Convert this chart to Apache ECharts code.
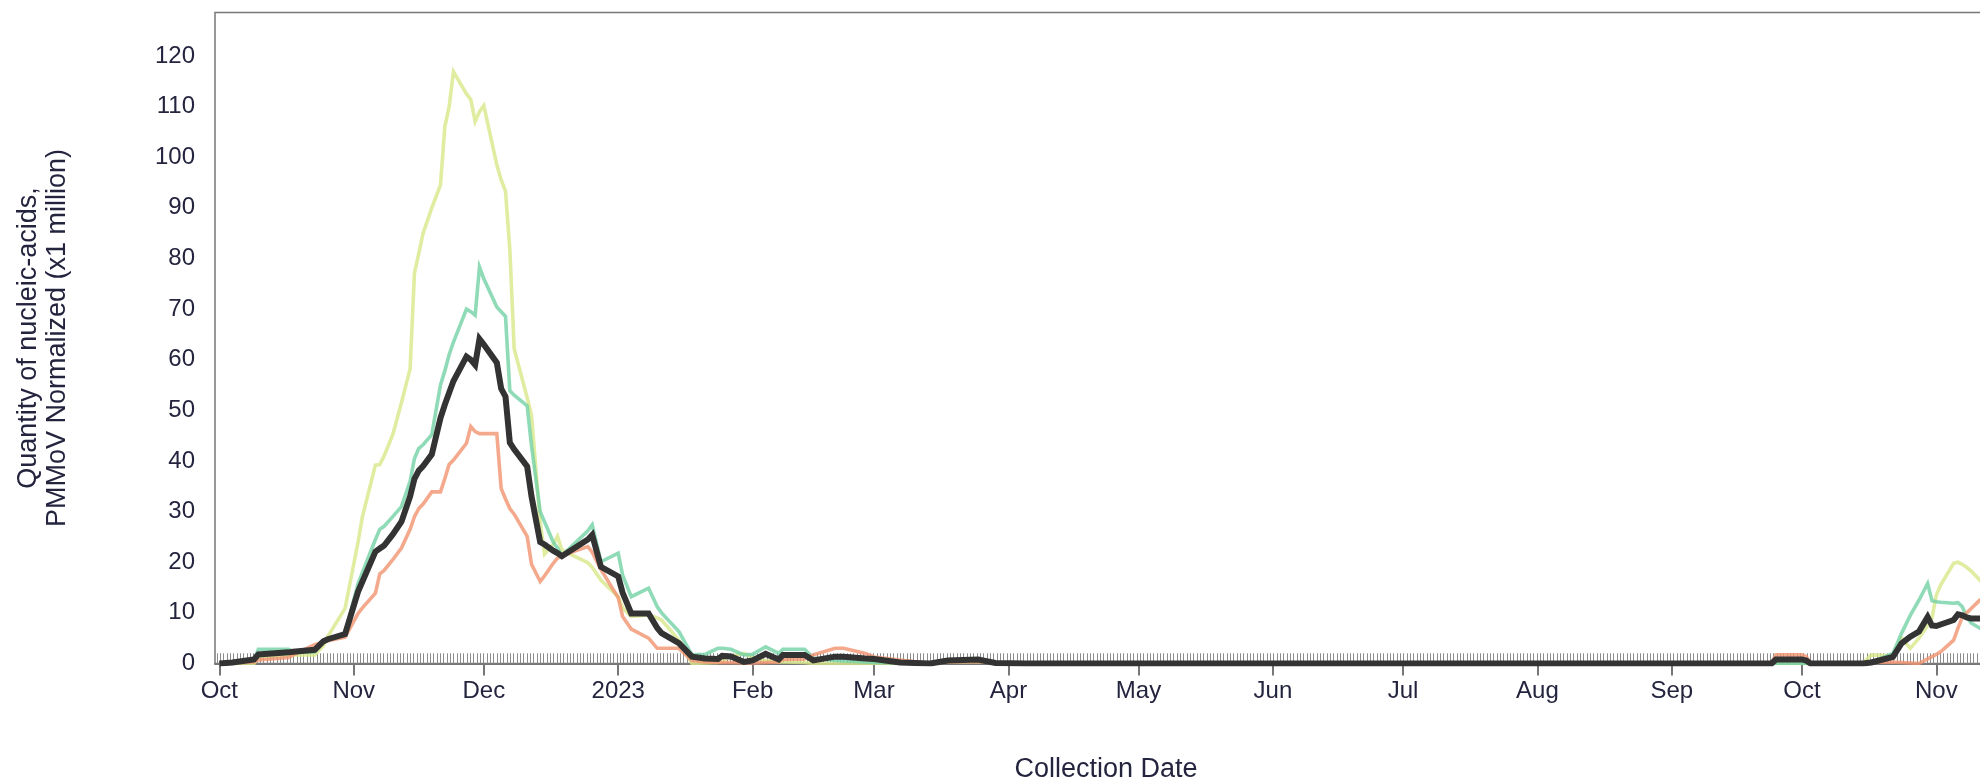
<!DOCTYPE html>
<html>
<head>
<meta charset="utf-8">
<script src="https://cdn.jsdelivr.net/npm/echarts@6/dist/echarts.min.js"></script>
<style>
  html, body { margin: 0; padding: 0; background: #ffffff; }
  #chart { width: 1980px; height: 782px; }
</style>
</head>
<body>
<div id="chart"></div>
<script>
// Sample collection dates
const dates = [
  // Oct 2022
  '2022-10-01','2022-10-04','2022-10-09','2022-10-10','2022-10-17','2022-10-18','2022-10-23','2022-10-25','2022-10-26','2022-10-30',
  // Nov 2022
  '2022-11-02','2022-11-03','2022-11-06','2022-11-07','2022-11-08','2022-11-10','2022-11-12','2022-11-14','2022-11-15','2022-11-16',
  '2022-11-17','2022-11-19','2022-11-21','2022-11-22','2022-11-23','2022-11-24','2022-11-27','2022-11-28','2022-11-29','2022-11-30',
  // Dec 2022
  '2022-12-01','2022-12-04','2022-12-05','2022-12-06','2022-12-07','2022-12-08','2022-12-11','2022-12-12','2022-12-14','2022-12-15',
  '2022-12-17','2022-12-18','2022-12-19','2022-12-25','2022-12-26','2022-12-28',
  // Jan 2023
  '2023-01-01','2023-01-02','2023-01-04','2023-01-08','2023-01-10','2023-01-11','2023-01-15','2023-01-18','2023-01-21','2023-01-24',
  '2023-01-25','2023-01-27','2023-01-30',
  // Feb 2023
  '2023-02-01','2023-02-04','2023-02-07','2023-02-08','2023-02-13','2023-02-15','2023-02-20','2023-02-22','2023-02-27',
  // Mar 2023
  '2023-03-01','2023-03-07','2023-03-14','2023-03-18','2023-03-25','2023-03-29',
  // Apr - Sep 2023 (weekly)
  '2023-04-05','2023-04-12','2023-04-19','2023-04-26','2023-05-03','2023-05-10','2023-05-17','2023-05-24','2023-05-31',
  '2023-06-07','2023-06-14','2023-06-21','2023-06-28','2023-07-05','2023-07-12','2023-07-19','2023-07-26',
  '2023-08-02','2023-08-09','2023-08-16','2023-08-23','2023-08-30','2023-09-06','2023-09-13','2023-09-20',
  '2023-09-24','2023-09-25',
  // Oct 2023
  '2023-10-01','2023-10-02','2023-10-03','2023-10-08','2023-10-15','2023-10-17','2023-10-22','2023-10-24','2023-10-26','2023-10-28',
  '2023-10-30','2023-10-31',
  // Nov 2023
  '2023-11-01','2023-11-02','2023-11-05','2023-11-06','2023-11-07','2023-11-08','2023-11-09','2023-11-11','2023-11-14'
];

const ZERO_APR_SEP = [0,0,0,0,0,0,0,0,0, 0,0,0,0,0,0,0,0, 0,0,0,0,0,0,0,0];

// Site A (yellow-green)
const siteA = [
  0, 0, 0, 1.2, 1.7, 1.7, 1.7, 3.5, 5.3, 10.9,
  24.0, 29.0, 39.2, 39.3, 41.0, 45.2, 51.5, 58.2, 77.1, 81.0,
  85.0, 90.0, 94.5, 106.0, 110.0, 116.9, 112.5, 111.4, 107.1, 109.0,
  110.2, 98.5, 95.5, 93.3, 81.8, 62.2, 52.5, 49.0, 28.0, 21.6,
  23.5, 25.1, 22.4, 19.9, 19.0, 16.5,
  13.2, 11.0, 9.3, 9.6, 9.0, 8.6, 4.6, 0, 0.1, 0.2,
  0.5, 1.5, 2.0,
  1.2, 0.6, 0.3, 0.3, 0.2, 0, 0, 0, 0,
  0, 0, 0, 0.3, 0.4, 0.1,
  ...ZERO_APR_SEP,
  0, 0,
  0, 0, 0, 0, 0, 1.7, 1.5, 5.0, 3.0, 5.0,
  7.5, 9.0,
  13.5, 15.5, 19.8, 20.0, 19.6, 19.0, 18.3, 16.5, 14.0
];

// Site B (teal)
const siteB = [
  0, 0.1, 0.6, 2.8, 2.8, 2.3, 2.3, 4.4, 4.8, 6.0,
  15.8, 18.0, 24.5, 26.5, 27.1, 29.0, 31.0, 36.0, 40.5, 42.5,
  43.2, 45.2, 55.0, 57.8, 61.0, 63.5, 70.0, 69.5, 68.8, 78.3,
  76.0, 70.4, 69.5, 68.6, 53.9, 53.0, 50.9, 43.0, 30.0, 28.0,
  24.0, 22.8, 21.3, 26.2, 27.4, 20.1,
  21.8, 17.5, 13.2, 14.9, 11.2, 10.0, 6.3, 1.7, 1.8, 3.0,
  3.0, 2.8, 1.7,
  1.8, 3.3, 2.0, 2.8, 2.8, 1.1, 0.6, 0.5, 0.3,
  0.2, 0.1, 0, 0.4, 0.6, 0.1,
  ...ZERO_APR_SEP,
  0, 0,
  0, 0, 0, 0, 0, 0.2, 2.0, 6.0, 9.5, 12.5,
  15.8, 12.4,
  12.2, 12.1, 11.9, 12.0, 11.2, 9.2, 8.0, 7.0, 5.0
];

// Site C (salmon)
const siteC = [
  0, 0.1, 0.3, 0.7, 1.2, 1.7, 3.7, 4.2, 4.5, 5.2,
  9.9, 11.0, 13.9, 17.7, 18.4, 20.5, 22.8, 26.5, 29.0, 30.6,
  31.5, 33.9, 33.9, 36.5, 39.3, 40.2, 43.5, 46.8, 45.8, 45.4,
  45.4, 45.4, 34.6, 32.5, 30.6, 29.5, 25.1, 19.6, 16.2, 17.3,
  19.8, 20.8, 21.3, 23.1, 22.0, 18.6,
  13.0, 9.3, 6.8, 5.0, 3.0, 3.0, 3.0, 0.6, 0.3, 0.2,
  0.2, 0.2, 0.1,
  0.1, 0.2, 0.3, 0.8, 0.9, 1.7, 3.0, 3.0, 2.0,
  1.3, 0.7, 0, 0.3, 0.4, 0.1,
  ...ZERO_APR_SEP,
  0, 1.7,
  1.7, 1.4, 0, 0, 0, 0.2, 0.3, 0.2, 0.1, 0,
  0.9, 1.35,
  1.8, 2.3, 4.6, 7.0, 9.2, 10.0, 10.8, 12.5, 14.0
];

// Combined trend (black)
const combined = [
  0, 0.2, 0.8, 1.8, 2.2, 2.3, 2.7, 4.4, 4.8, 5.8,
  14.2, 16.2, 22.1, 22.7, 23.3, 25.5, 28.0, 33.0, 36.5, 38.1,
  39.0, 41.3, 48.5, 51.1, 53.5, 55.8, 60.6, 60.0, 59.0, 64.1,
  63.0, 59.4, 54.3, 52.7, 43.6, 42.3, 38.9, 33.0, 24.0, 23.5,
  22.3, 21.8, 21.2, 24.5, 25.4, 19.1,
  17.2, 14.0, 9.9, 9.9, 7.0, 6.0, 4.0, 1.35, 1.0, 0.9,
  1.5, 1.4, 0.3,
  0.6, 1.9, 0.8, 1.7, 1.7, 0.6, 1.35, 1.35, 1.0,
  0.9, 0.2, 0, 0.6, 0.8, 0.1,
  ...ZERO_APR_SEP,
  0, 0.8,
  0.8, 0.6, 0, 0, 0, 0.2, 1.3, 4.0, 5.3, 6.3,
  9.2, 7.5,
  7.4, 7.7, 8.6, 9.7, 9.5, 9.1, 8.9, 8.9, 8.5
];

// Shaded band below this level (hatched)
const detectionLimit = 2;

// Month tick labels
const monthNames = ['Jan','Feb','Mar','Apr','May','Jun','Jul','Aug','Sep','Oct','Nov','Dec'];

const xMin = '2022-09-30';
const xMax = '2023-11-15';

const textColor = '#24243f';
const axisGrey = '#777777';
const fontFamily = 'Liberation Sans, Arial, sans-serif';

function pairs(values) {
  return dates.map((d, i) => [d, values[i]]);
}

const yMax = Math.max(...siteA, ...siteB, ...siteC, ...combined) * 1.1;

// Vertical hatch pattern used for the low band
const hatch = document.createElement('canvas');
hatch.width = 10;
hatch.height = 10;
(function () {
  const ctx = hatch.getContext('2d');
  ctx.fillStyle = '#8c8c8c';
  [0, 3, 7].forEach(x => ctx.fillRect(x, 0, 1, 10));
})();

const chart = echarts.init(document.getElementById('chart'), null, { renderer: 'canvas' });

function lineSeries(name, values, color, width, opacity, z) {
  return {
    name: name,
    type: 'line',
    data: pairs(values),
    showSymbol: false,
    symbol: 'none',
    z: z,
    lineStyle: { color: color, width: width, opacity: opacity, join: 'miter' },
    emphasis: { disabled: true }
  };
}

chart.setOption({
  animation: false,
  backgroundColor: '#ffffff',
  grid: {
    left: 215,
    right: -17,
    top: 12.5,
    bottom: 118.5,
    containLabel: false,
    outerBoundsMode: 'none',
    show: true,
    borderColor: axisGrey,
    borderWidth: 1.5,
    backgroundColor: 'transparent'
  },
  xAxis: {
    type: 'time',
    min: xMin,
    max: xMax,
    splitNumber: 14,
    name: 'Collection Date',
    nameLocation: 'middle',
    nameGap: 93,
    nameTextStyle: { fontFamily: fontFamily, fontSize: 27, color: textColor },
    axisLine: { show: true, onZero: false, lineStyle: { color: axisGrey, width: 2 } },
    axisTick: { show: true, length: 12, lineStyle: { color: axisGrey, width: 2 } },
    splitLine: { show: false },
    axisLabel: {
      margin: 16,
      fontFamily: fontFamily,
      fontSize: 24,
      color: textColor,
      showMinLabel: false,
      showMaxLabel: false,
      hideOverlap: false,
      formatter: function (value) {
        const d = new Date(value);
        return d.getMonth() === 0 ? String(d.getFullYear()) : monthNames[d.getMonth()];
      }
    }
  },
  yAxis: {
    type: 'value',
    min: 0,
    max: yMax,
    interval: 10,
    name: 'Quantity of nucleic-acids,\nPMMoV Normalized (x1 million)',
    nameLocation: 'middle',
    nameRotate: 90,
    nameGap: 143,
    nameTextStyle: { fontFamily: fontFamily, fontSize: 27, lineHeight: 29, color: textColor, align: 'center' },
    axisLine: { show: false },
    axisTick: { show: false },
    splitLine: { show: false },
    axisLabel: {
      margin: 20,
      fontFamily: fontFamily,
      fontSize: 24,
      color: textColor,
      showMaxLabel: false
    }
  },
  series: [
    lineSeries('Site A', siteA, '#d8e788', 3.6, 0.8, 2),
    lineSeries('Site B', siteB, '#73d1a5', 3.6, 0.8, 2),
    lineSeries('Site C', siteC, '#f1936f', 3.6, 0.8, 2),
    lineSeries('Combined', combined, '#333333', 6, 1, 3),
    {
      name: 'band',
      type: 'line',
      data: [],
      z: 6,
      silent: true,
      markArea: {
        silent: true,
        itemStyle: { color: { image: hatch, repeat: 'repeat' } },
        data: [[{ yAxis: 0 }, { yAxis: detectionLimit }]]
      }
    }
  ]
});
</script>
</body>
</html>
